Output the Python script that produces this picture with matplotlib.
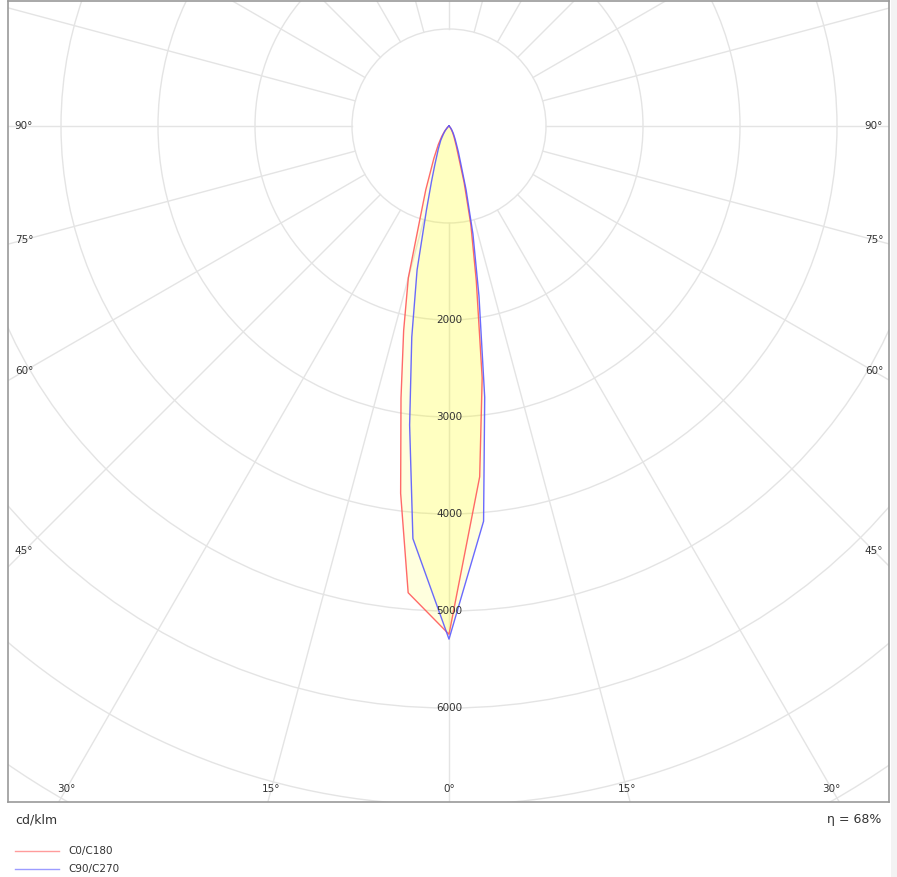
import numpy as np
import matplotlib
matplotlib.use("Agg")
import matplotlib.pyplot as plt
from matplotlib.patches import Circle, Rectangle
from matplotlib.lines import Line2D

# gamma angles (deg from nadir) and intensities in cd/klm
angles = [0, 5, 7.5, 10, 12.5, 15, 17.5, 20, 25, 30, 35, 40, 50, 60, 90]
c0 = [5240, 3630, 2620, 1620, 1040, 600, 320, 220, 120, 70, 40, 20, 5, 0, 0]
c180 = [5240, 4830, 3820, 2850, 2160, 1620, 980, 700, 370, 220, 130, 70, 20, 0, 0]
c90 = [5290, 4090, 2820, 1780, 1140, 680, 400, 280, 150, 90, 50, 25, 5, 0, 0]
c270 = [5290, 4270, 3110, 2210, 1520, 900, 600, 430, 260, 170, 100, 60, 15, 0, 0]

ring_values = [1000, 2000, 3000, 4000, 5000, 6000, 7000, 8000, 9000]
ring_labels = [2000, 3000, 4000, 5000, 6000]
side_labels = [90, 75, 60, 45]
bottom_labels = [30, 15, 0]
series_names = ["C0/C180", "C90/C270"]
efficiency = "η = 68%"
unit = "cd/klm"

W, H = 897, 877
fig = plt.figure(figsize=(W / 100, H / 100), dpi=100)
fig.patch.set_facecolor("white")

px = 97.0 / 1000  # pixels per cd/klm
cx, cy = 449, 126
left, right, top, bottom = 8, 889, 1, 802
ax = fig.add_axes([left / W, 1 - bottom / H, (right - left) / W, (bottom - top) / H])
ax.set_xlim((left - cx) / px, (right - cx) / px)
ax.set_ylim(-(bottom - cy) / px, (cy - top) / px)
ax.set_xticks([])
ax.set_yticks([])
for s in ax.spines.values():
    s.set_color("#9a9a9a")
    s.set_linewidth(1.2)

grid_c = "#e4e4e4"
for r in ring_values:
    ax.add_patch(Circle((0, 0), r, fill=False, ec=grid_c, lw=1, zorder=1))
for a in range(0, 360, 15):
    t = np.radians(a)
    ax.plot([1000 * np.sin(t), 12000 * np.sin(t)], [-1000 * np.cos(t), -12000 * np.cos(t)],
            color=grid_c, lw=1, zorder=1)

th = np.radians(angles)


def outline(right_vals, left_vals):
    rv = np.array(right_vals, float)
    lv = np.array(left_vals, float)
    xr, yr = rv * np.sin(th), -rv * np.cos(th)
    xl, yl = -lv * np.sin(th), -lv * np.cos(th)
    x = np.concatenate([xr[::-1], xl])
    y = np.concatenate([yr[::-1], yl])
    return x, y


x1, y1 = outline(c0, c180)
x2, y2 = outline(c90, c270)
ax.fill(x1, y1, color="#ffff00", alpha=0.13, lw=0, zorder=2)
ax.fill(x2, y2, color="#ffff00", alpha=0.13, lw=0, zorder=2)
red = "#ff5a5a"
blue = "#5a5aff"
ax.plot(x1, y1, color=red, lw=1.0, alpha=0.9, zorder=3)
ax.plot(x2, y2, color=blue, lw=1.0, alpha=0.9, zorder=3)

txt_c = "#333333"
for v in ring_labels:
    ax.text(0, -v, str(v), ha="center", va="center", fontsize=7.5, color=txt_c, zorder=4)

# angle labels along the inside of the frame
xl_lab = (24 - cx) / px
xr_lab = (874 - cx) / px
for a in side_labels:
    t = np.radians(a)
    yl = xl_lab * np.cos(t) / np.sin(t)
    ax.text(xl_lab, yl, f"{a}°", ha="center", va="center", fontsize=7.5, color=txt_c)
    ax.text(xr_lab, yl, f"{a}°", ha="center", va="center", fontsize=7.5, color=txt_c)
yb_lab = -(789 - cy) / px
for a in bottom_labels:
    xb = -yb_lab * np.tan(np.radians(a))
    ax.text(xb, yb_lab, f"{a}°", ha="center", va="center", fontsize=7.5, color=txt_c)
    if a != 0:
        ax.text(-xb, yb_lab, f"{a}°", ha="center", va="center", fontsize=7.5, color=txt_c)

fig.text(15 / W, 1 - 820 / H, unit, ha="left", va="center", fontsize=9, color=txt_c)
fig.text(881 / W, 1 - 820 / H, efficiency, ha="right", va="center", fontsize=9, color=txt_c)

for i, (name, col) in enumerate(zip(series_names, [red, blue])):
    yy = 1 - (851 + 18 * i) / H
    fig.add_artist(Line2D([15 / W, 59 / W], [yy, yy], color=col, lw=1.0, alpha=0.6,
                          transform=fig.transFigure))
    fig.text(68 / W, yy, name, ha="left", va="center", fontsize=7.5, color=txt_c)

fig.add_artist(Rectangle((891 / W, 0), 6 / W, 1, transform=fig.transFigure,
                         color="#f3f3f3", lw=0))

fig.savefig("out.png", dpi=100)
